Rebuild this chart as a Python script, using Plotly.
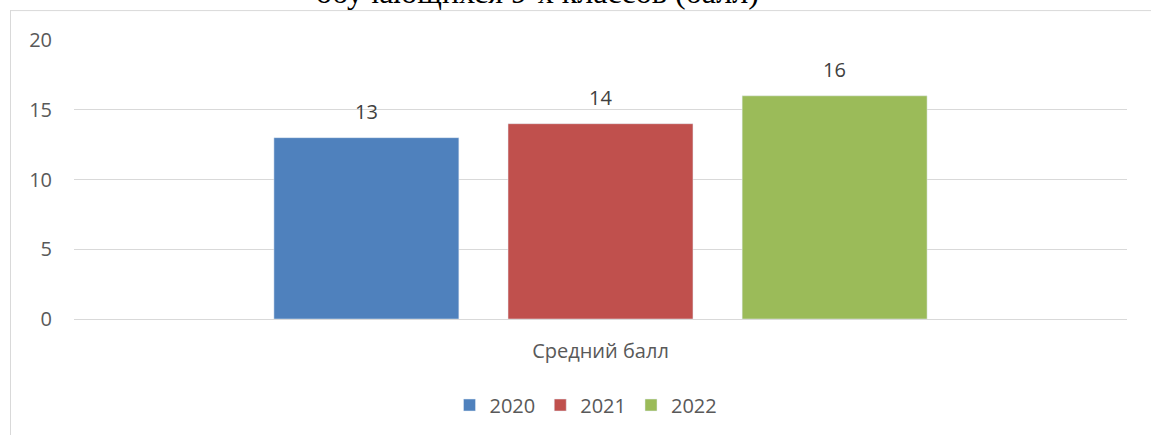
import plotly.graph_objects as go

categories = ["Средний балл"]
years = ["2020", "2021", "2022"]
values_2020 = [13]
values_2021 = [14]
values_2022 = [16]
colors = ["#4f81bd", "#c0504d", "#9bbb59"]
y_ticks = [0, 5, 10, 15, 20]
title_text = "обучающихся 9-х классов (балл)"

W, H = 1151, 435
L, R, T, B = 74, 24, 40, 115
pw, ph = W - L - R, H - T - B
BARGAP, GROUPGAP = 0.333, 0.21
FONT = "Open Sans"

series = [values_2020, values_2021, values_2022]

fig = go.Figure()
for name, vals, col in zip(years, series, colors):
    fig.add_trace(go.Bar(x=categories, y=vals, name=name, marker_color=col))

def px_x(p):
    return (p - L) / pw

def px_y(p):
    return (H - B - p) / ph

# data labels above each bar (offset of each bar within the group from the bar layout)
slot = (1 - BARGAP) * pw / len(series)
for i, vals in enumerate(series):
    for cat, v in zip(categories, vals):
        fig.add_annotation(
            x=cat, y=v, text=str(v), showarrow=False,
            xshift=(i - (len(series) - 1) / 2) * slot,
            yanchor="bottom", yshift=11,
            font=dict(family=FONT, size=20, color="#404040"),
        )

fig.update_layout(
    width=W, height=H,
    margin=dict(l=L, r=R, t=T, b=B),
    paper_bgcolor="white", plot_bgcolor="white",
    barmode="group", bargap=BARGAP, bargroupgap=GROUPGAP,
    font=dict(family=FONT, size=20, color="#595959"),
    showlegend=True,
    legend=dict(orientation="h", x=px_x(586), xanchor="center", y=px_y(405), yanchor="middle",
                font=dict(size=20, color="#595959"), itemwidth=30, traceorder="normal"),
    yaxis=dict(range=[0, 20], tickvals=y_ticks, showgrid=True, gridcolor="#d9d9d9",
               gridwidth=1, zeroline=False, showline=False, ticks="",
               ticklabelstandoff=21, tickfont=dict(size=20, color="#595959")),
    xaxis=dict(showline=True, linecolor="#d9d9d9", linewidth=1, ticks="",
               tickfont=dict(size=20, color="#595959"), ticklabelstandoff=14),
)

fig.add_annotation(
    text=title_text, xref="paper", yref="paper", x=px_x(537), y=px_y(4),
    xanchor="center", yanchor="bottom", yshift=-8, showarrow=False,
    font=dict(family="Liberation Serif", size=32, color="#000000"),
)

# chart border (top and left edges visible)
fig.add_shape(type="line", xref="paper", yref="paper",
              x0=px_x(10), x1=px_x(W + 5), y0=px_y(10.5), y1=px_y(10.5),
              line=dict(color="#d9d9d9", width=1))
fig.add_shape(type="line", xref="paper", yref="paper",
              x0=px_x(10.5), x1=px_x(10.5), y0=px_y(10), y1=px_y(H + 5),
              line=dict(color="#d9d9d9", width=1))

fig.write_html("out.html", config={"displayModeBar": False},
               post_script="document.body.style.margin='0';document.body.style.overflow='hidden';")
